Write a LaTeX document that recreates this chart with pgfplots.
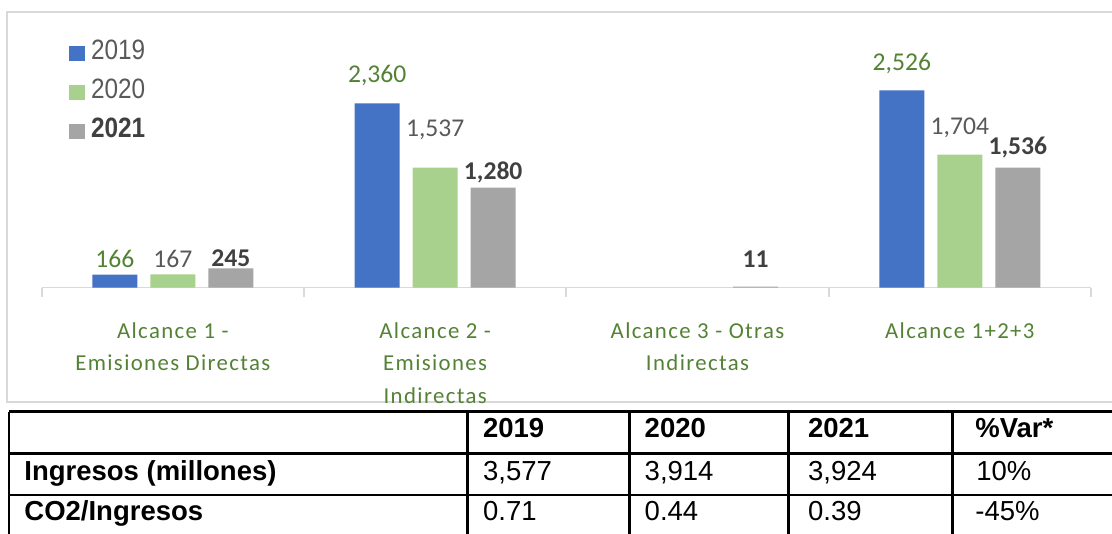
\documentclass[border=0pt]{standalone}
\usepackage{pgfplots}
\pgfplotsset{compat=1.18}
\usepackage{pgfplotstable}
\usepackage{fontspec}
\setmainfont{Carlito}
\newfontfamily\catfont[LetterSpace=6]{Carlito}
\newfontfamily\legfont[FakeStretch=0.87]{Liberation Sans}
\newfontfamily\tabfont{Liberation Sans}
\definecolor{cblue}{HTML}{4472C4}
\definecolor{cgreen}{HTML}{A9D18E}
\definecolor{cgray}{HTML}{A5A5A5}
\definecolor{lblgreen}{HTML}{548235}
\definecolor{lblgray}{HTML}{595959}
\definecolor{lbldark}{HTML}{404040}
\definecolor{bordergray}{HTML}{D9D9D9}

% x = category, y = value, dy = label offset above bar top (pt)
\pgfplotstableread{
x y dy
0 166 3.4
1 2360 10.35
3 2526 9.9
}\dataA
\pgfplotstableread{
x y dy
0 167 3.4
1 1537 15.8
3 1704 9.8
}\dataB
\pgfplotstableread{
x y dy
0 245 1.0
1 1280 3.85
2 11 9.45
3 1536 6.35
}\dataC

\begin{document}
\begin{tikzpicture}
\path[use as bounding box] (0pt,0pt) rectangle (556pt,-267pt);
\begin{scope}[x=0.5pt,y=-0.5pt]
\draw[bordergray, line width=1pt] (1130,402) -- (7.3,402) -- (7.3,12) -- (1130,12);
\end{scope}
\begin{axis}[
  at={(20.85pt,-143.75pt)}, anchor=south west,
  scale only axis, width=524.65pt, height=137.75pt,
  xmin=-0.5, xmax=3.5, ymin=0, ymax=3532,
  ybar=6.5pt, bar width=22.5pt,
  axis x line*=bottom, axis y line=none,
  x axis line style={bordergray, line width=0.9pt},
  xtick={0,1,2,3},
  xticklabels={{Alcance 1 -\\Emisiones Directas},{Alcance 2 -\\Emisiones\\Indirectas},{Alcance 3 - Otras\\Indirectas},{Alcance 1+2+3}},
  xticklabel style={font=\catfont\fontsize{11.4}{16.15}\selectfont, text=lblgreen, align=center, anchor=north, inner sep=0pt, yshift=-17.4pt},
  major tick length=0pt,
  extra x ticks={-0.5,0.5,1.5,2.5,3.5},
  extra x tick labels={},
  extra x tick style={major tick length=4.5pt, tick align=outside, tick style={bordergray, line width=0.9pt}},
  clip=false,
  /pgf/number format/assume math mode=true,
  /pgf/number format/1000 sep={,},
  nodes near coords,
  point meta=y,
  visualization depends on={\thisrow{dy} \as \dy},
  every node near coord/.append style={anchor=base, inner sep=0pt, yshift=\dy pt},
  legend style={at={(axis description cs:0.026,0.902)}, anchor=north west, draw=none, fill=none, inner sep=0pt,
    font=\legfont\fontsize{14}{16}\selectfont, text=lblgray, row sep=6.5pt,
    nodes={inner sep=0pt, text height=10pt, text depth=3pt},
    /tikz/every odd column/.append style={column sep=2.85pt}},
  legend cell align=left,
  legend image code/.code={\fill[#1, draw=none] (0pt,-4.5pt) rectangle (8pt,3.15pt);},
]
\addplot[fill=cblue, draw=none, every node near coord/.append style={text=lblgreen, font=\fontsize{12.8}{14}\selectfont}] table[x=x,y=y]{\dataA};
\addlegendentry{2019}
\addplot[fill=cgreen, draw=none, every node near coord/.append style={text=lblgray, font=\fontsize{12.8}{14}\selectfont}] table[x=x,y=y]{\dataB};
\addlegendentry{2020}
\addplot[fill=cgray, draw=none, every node near coord/.append style={text=lbldark, font=\bfseries\fontsize{12.8}{14}\selectfont}] table[x=x,y=y]{\dataC};
\addlegendentry{\textcolor{lbldark}{\bfseries 2021}}
\end{axis}
\begin{scope}[x=0.5pt,y=-0.5pt, every node/.style={anchor=base west, inner sep=0pt, font=\tabfont\fontsize{13.75}{16}\selectfont, text=black}]
\draw[line width=1.25pt] (9,411.5) -- (1130,411.5);
\draw[line width=1.25pt] (9,453.3) -- (1130,453.3);
\draw[line width=1.25pt] (9,495) -- (1130,495);
\foreach \xx in {9,467.3,629.3,788.3,952.7} {\draw[line width=1.25pt] (\xx,411.5) -- (\xx,545);}
\node at (482.7,437.7) {\bfseries 2019};
\node at (644.3,437.7) {\bfseries 2020};
\node at (807.7,437.7) {\bfseries 2021};
\node at (975,437.7) {\bfseries \%Var*};
\node at (24,480) {\bfseries Ingresos (millones)};
\node at (482.7,480) {3,577};
\node at (644.3,480) {3,914};
\node at (807.7,480) {3,924};
\node at (976,480) {10\%};
\node at (24,520.7) {\bfseries CO2/Ingresos};
\node at (482.7,520.7) {0.71};
\node at (644.3,520.7) {0.44};
\node at (807.7,520.7) {0.39};
\node at (975,520.7) {-45\%};
\end{scope}
\end{tikzpicture}
\end{document}
